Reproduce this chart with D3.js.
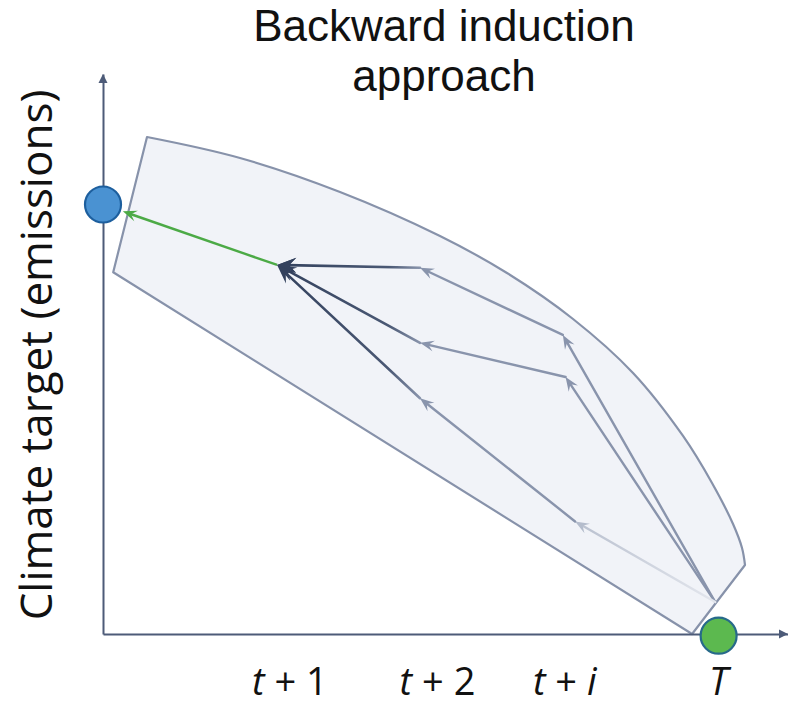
<!DOCTYPE html>
<html>
<head>
<meta charset="utf-8">
<script src="https://cdn.jsdelivr.net/npm/d3@7"></script>
<style>
  html, body { margin: 0; padding: 0; background: #fff; }
  svg { display: block; }
  text { font-family: "Open Sans", "Liberation Sans", sans-serif; fill: #111; }
</style>
</head>
<body>
<svg id="chart" width="788" height="705"></svg>
<script>
// ---------- data ----------
const titleLines = ["Backward induction", "approach"];
const yLabel = "Climate target (emissions)";
const tickLabels = ["t + 1", "t + 2", "t + i", "T"];
const tickValues = [27.4, 49.1, 67.8, 90.4];

// decision nodes (time, emissions)
const nodeNames = ["A", "B1", "B2", "B3", "C1", "C2", "C3", "T"];
const nodeX = [25.6, 46.6, 46.6, 46.6, 67.6, 68.0, 69.4, 90.0];
const nodeY = [65.9, 65.4, 52.0, 42.1, 53.4, 45.9, 20.1, 5.7];

// backward steps: [from, to, style]
const edgeFrom  = ["T",  "T",  "T",     "C1",  "C2",  "C3",  "B1",   "B2",   "B3"];
const edgeTo    = ["C1", "C2", "C3",    "B1",  "B2",  "B3",  "A",    "A",    "A"];
const edgeStyle = ["mid","mid","faint", "mid", "mid", "mid", "dark", "dark", "dark"];

// start point (blue) and end point (green)
const startPoint = [0, 76.7];
const endPoint = [90.5, -0.3];

// feasible envelope: upper (curved) edge, then straight edges
const upperX = [6.47, 20.14, 34.84, 49.54, 59.39, 69.10, 77.92, 85.27, 89.53, 92.62, 93.94, 94.38];
const upperY = [88.75, 85.0, 78.93, 71.07, 64.46, 56.25, 46.61, 35.36, 26.96, 19.64, 15.36, 12.32];
const lowerX = [86.6, 1.5];
const lowerY = [0.0, 64.6];

// ---------- drawing ----------
const svg = d3.select("#chart");
const x = d3.scaleLinear().domain([0, 100.7]).range([103, 788]);
const y = d3.scaleLinear().domain([0, 100]).range([634, 74]);

const axisColor = "#4d5b78";
const midColor = "#8994ac";
const darkColor = "#33415d";
const envStroke = "#8792aa";

// envelope
const upperPts = upperX.map((v, i) => [x(v), y(upperY[i])]);
const upperPath = d3.line().curve(d3.curveCatmullRom.alpha(0.5))(upperPts);
const lowerPath = lowerX.map((v, i) => `L${x(v)},${y(lowerY[i])}`).join("");
svg.append("path")
  .attr("d", upperPath + lowerPath + "Z")
  .attr("fill", "#f1f3f8")
  .attr("stroke", envStroke)
  .attr("stroke-width", 2.2)
  .attr("stroke-linejoin", "round");

// axes
const xAxis = d3.axisBottom(x).tickValues(tickValues).tickSize(0).tickSizeOuter(0).tickFormat("");
const yAxis = d3.axisLeft(y).tickValues([]).tickSizeOuter(0);
const gx = svg.append("g").attr("transform", `translate(0,${y(0)})`).call(xAxis);
const gy = svg.append("g").attr("transform", `translate(${x(0)},0)`).call(yAxis);
[gx, gy].forEach(g => g.select(".domain").attr("stroke", axisColor).attr("stroke-width", 2));

// axis arrowheads
function axisHead(tx, ty, angle) {
  svg.append("path")
    .attr("d", "M0,0 L-9,-4.5 L-9,4.5 Z")
    .attr("fill", axisColor)
    .attr("transform", `translate(${tx},${ty}) rotate(${angle})`);
}
axisHead(x(100.7), y(0), 0);
axisHead(x(0), y(100), -90);

// tick labels with italic variables
gx.selectAll(".tick").each(function(d, i) {
  const t = d3.select(this).append("text")
    .attr("y", 61)
    .attr("text-anchor", "middle")
    .style("font-size", "38px")
    .attr("fill", "#111");
  const parts = tickLabels[i].split(" ");
  parts.forEach((p, k) => {
    t.append("tspan")
      .text((k > 0 ? " " : "") + p)
      .style("font-style", /^[a-zA-Z]$/.test(p) ? "italic" : "normal");
  });
});

// gradients
const defs = svg.append("defs");
const pos = {};
nodeNames.forEach((n, i) => pos[n] = [x(nodeX[i]), y(nodeY[i])]);

function arrowHead(tip, angle, L, W, color) {
  svg.append("path")
    .attr("d", `M0,0 L${-L},${-W / 2} L${-L * 0.62},0 L${-L},${W / 2} Z`)
    .attr("fill", color)
    .attr("transform", `translate(${tip[0]},${tip[1]}) rotate(${angle * 180 / Math.PI})`);
}

edgeFrom.forEach((f, i) => {
  const s = pos[f], t = pos[edgeTo[i]], style = edgeStyle[i];
  const ang = Math.atan2(t[1] - s[1], t[0] - s[0]);
  const L = style === "dark" ? 19 : 14;
  const W = style === "dark" ? 15 : 11;
  const endX = t[0] - Math.cos(ang) * L * 0.55, endY = t[1] - Math.sin(ang) * L * 0.55;
  let stroke = midColor, headColor = midColor;
  if (style !== "mid") {
    const id = "g" + i;
    const g = defs.append("linearGradient").attr("id", id)
      .attr("gradientUnits", "userSpaceOnUse")
      .attr("x1", s[0]).attr("y1", s[1]).attr("x2", t[0]).attr("y2", t[1]);
    if (style === "dark") {
      g.append("stop").attr("offset", 0).attr("stop-color", midColor);
      g.append("stop").attr("offset", 0.22).attr("stop-color", "#4a5874");
      g.append("stop").attr("offset", 1).attr("stop-color", darkColor);
      headColor = darkColor;
    } else {
      g.append("stop").attr("offset", 0).attr("stop-color", "#e3e6ed");
      g.append("stop").attr("offset", 1).attr("stop-color", "#b9c0cf");
      headColor = "#b4bccc";
    }
    stroke = `url(#${id})`;
  }
  svg.append("line")
    .attr("x1", s[0]).attr("y1", s[1]).attr("x2", endX).attr("y2", endY)
    .attr("stroke", stroke)
    .attr("stroke-width", style === "dark" ? 2.6 : 2.4)
    .attr("stroke-linecap", "round");
  arrowHead(t, ang, L, W, headColor);
});

// green arrow from A to start point
const A = pos["A"];
const S = [x(startPoint[0]), y(startPoint[1])];
const gAng = Math.atan2(S[1] - A[1], S[0] - A[0]);
const r = 18;
const gTip = [S[0] - Math.cos(gAng) * (r + 3), S[1] - Math.sin(gAng) * (r + 3)];
svg.append("line")
  .attr("x1", A[0]).attr("y1", A[1])
  .attr("x2", gTip[0] - Math.cos(gAng) * 8).attr("y2", gTip[1] - Math.sin(gAng) * 8)
  .attr("stroke", "#4caa46").attr("stroke-width", 2.4);
arrowHead(gTip, gAng, 14, 11, "#4caa46");
// redraw dark head at A on top
arrowHead(A, Math.atan2(A[1] - pos["B1"][1], A[0] - pos["B1"][0]), 19, 15, darkColor);

// start / end circles
svg.append("circle").attr("cx", S[0]).attr("cy", S[1]).attr("r", r)
  .attr("fill", "#4a92d2").attr("stroke", "#1d5f9e").attr("stroke-width", 2.2);
svg.append("circle").attr("cx", x(endPoint[0])).attr("cy", y(endPoint[1])).attr("r", r)
  .attr("fill", "#5cb94f").attr("stroke", "#276a8a").attr("stroke-width", 2.2);

// y label
svg.append("text")
  .attr("transform", `translate(52,355) rotate(-90)`)
  .attr("text-anchor", "middle")
  .style("font-size", "44px")
  .text(yLabel);

// title
titleLines.forEach((l, i) => {
  svg.append("text")
    .attr("x", 444).attr("y", 41 + i * 49.5)
    .attr("text-anchor", "middle")
    .style("font-family", "'Liberation Sans', Arial, sans-serif")
    .style("font-size", "44px")
    .text(l);
});
</script>
</body>
</html>
